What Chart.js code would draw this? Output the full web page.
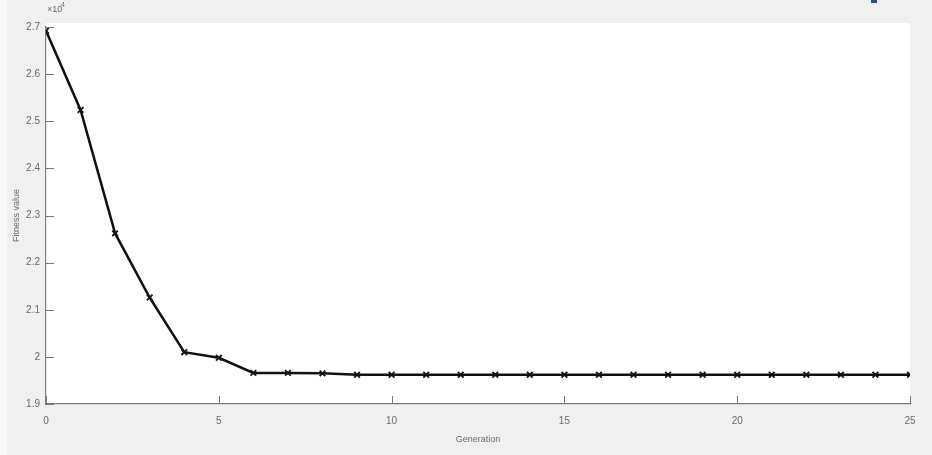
<!DOCTYPE html>
<html>
<head>
<meta charset="utf-8">
<script src="https://cdn.jsdelivr.net/npm/chart.js"></script>
<style>
  html, body { margin: 0; padding: 0; background: #f0f0f0; }
  #wrap { width: 932px; height: 455px; }
</style>
</head>
<body>
<div id="wrap"><canvas id="chart" width="932" height="455"></canvas></div>
<script>
// ===== DATA =====
const generations = [0, 1, 2, 3, 4, 5, 6, 7, 8, 9, 10, 11, 12, 13, 14, 15, 16, 17, 18, 19, 20, 21, 22, 23, 24, 25];
// fitness values in units of 10^4
const fitness = [2.692, 2.524, 2.262, 2.126, 2.010, 1.998, 1.966, 1.966, 1.965, 1.962, 1.962, 1.962, 1.962, 1.962,
                 1.962, 1.962, 1.962, 1.962, 1.962, 1.962, 1.962, 1.962, 1.962, 1.962, 1.962, 1.962];
const xTicks = [0, 5, 10, 15, 20, 25];
const yTicks = [1.9, 2, 2.1, 2.2, 2.3, 2.4, 2.5, 2.6, 2.7];

const FONT = 'Liberation Sans, Arial, sans-serif';
const TEXT_COLOR = '#6a6a6a';
const AXIS_COLOR = '#7a7a7a';

// background, white axes box, inward ticks and exponent label
const matlabLook = {
    id: 'matlabLook',
    beforeDraw(chart) {
        const { ctx, chartArea } = chart;
        ctx.save();
        ctx.fillStyle = '#f0f0f0';
        ctx.fillRect(0, 0, chart.width, chart.height);
        // thin light strip on the far left
        ctx.fillStyle = '#fafafa';
        ctx.fillRect(0, 0, 7, chart.height);
        ctx.fillStyle = '#ffffff';
        ctx.fillRect(chartArea.left, chartArea.top - 4, chartArea.right - chartArea.left, chartArea.bottom - chartArea.top + 4);
        // small blue mark at the top edge
        ctx.fillStyle = '#2a4f8a';
        ctx.fillRect(871, 0, 6, 3);
        ctx.restore();
    },
    afterDraw(chart) {
        const { ctx, chartArea } = chart;
        const xs = chart.scales.x;
        const ys = chart.scales.y;
        ctx.save();
        ctx.strokeStyle = AXIS_COLOR;
        ctx.lineWidth = 1;
        ctx.beginPath();
        xTicks.forEach(v => {
            const px = Math.round(xs.getPixelForValue(v)) + 0.5;
            ctx.moveTo(px, chartArea.bottom);
            ctx.lineTo(px, chartArea.bottom - 8);
        });
        yTicks.forEach(v => {
            const py = Math.round(ys.getPixelForValue(v)) + 0.5;
            ctx.moveTo(chartArea.left, py);
            ctx.lineTo(chartArea.left + 8, py);
        });
        ctx.stroke();

        // x10^4 exponent
        ctx.fillStyle = TEXT_COLOR;
        ctx.textBaseline = 'alphabetic';
        ctx.font = '9px ' + FONT;
        ctx.fillText('\u00d710', chartArea.left + 1, chartArea.top - 15);
        ctx.font = '7px ' + FONT;
        ctx.fillText('4', chartArea.left + 15, chartArea.top - 20);
        ctx.restore();
    }
};

const ctx = document.getElementById('chart').getContext('2d');
new Chart(ctx, {
    type: 'line',
    data: {
        labels: generations,
        datasets: [{
            data: generations.map((g, i) => ({ x: g, y: fitness[i] })),
            borderColor: '#111111',
            borderWidth: 2.5,
            tension: 0,
            fill: false,
            pointStyle: 'crossRot',
            pointRadius: 4,
            pointBorderWidth: 1.8,
            pointBorderColor: '#111111',
            pointBackgroundColor: '#111111'
        }]
    },
    options: {
        responsive: false,
        animation: false,
        devicePixelRatio: 1,
        layout: { padding: { left: 11, right: 22, top: 27, bottom: 10 } },
        plugins: {
            legend: { display: false },
            tooltip: { enabled: false }
        },
        scales: {
            x: {
                type: 'linear',
                min: 0,
                max: 25,
                afterBuildTicks: (scale) => { scale.ticks = xTicks.map(v => ({ value: v })); },
                afterFit: (scale) => { scale.height = 41; },
                grid: { display: false, drawTicks: false, tickLength: 0 },
                border: { display: true, color: AXIS_COLOR, width: 1.2 },
                ticks: {
                    color: TEXT_COLOR,
                    font: { family: FONT, size: 10 },
                    padding: 11,
                    maxRotation: 0
                },
                title: {
                    display: true,
                    text: 'Generation',
                    color: TEXT_COLOR,
                    font: { family: FONT, size: 9 },
                    padding: 0
                }
            },
            y: {
                min: 1.9,
                max: 2.7,
                afterBuildTicks: (scale) => { scale.ticks = yTicks.map(v => ({ value: v })); },
                afterFit: (scale) => { scale.width = 35; },
                grid: { display: false, drawTicks: false, tickLength: 0 },
                border: { display: true, color: AXIS_COLOR, width: 1.2 },
                ticks: {
                    color: TEXT_COLOR,
                    font: { family: FONT, size: 10 },
                    padding: 6,
                    callback: (v) => String(Math.round(v * 10) / 10)
                },
                title: {
                    display: true,
                    text: 'Fitness value',
                    color: TEXT_COLOR,
                    font: { family: FONT, size: 9 },
                    padding: 0
                }
            }
        }
    },
    plugins: [matlabLook]
});
</script>
</body>
</html>
